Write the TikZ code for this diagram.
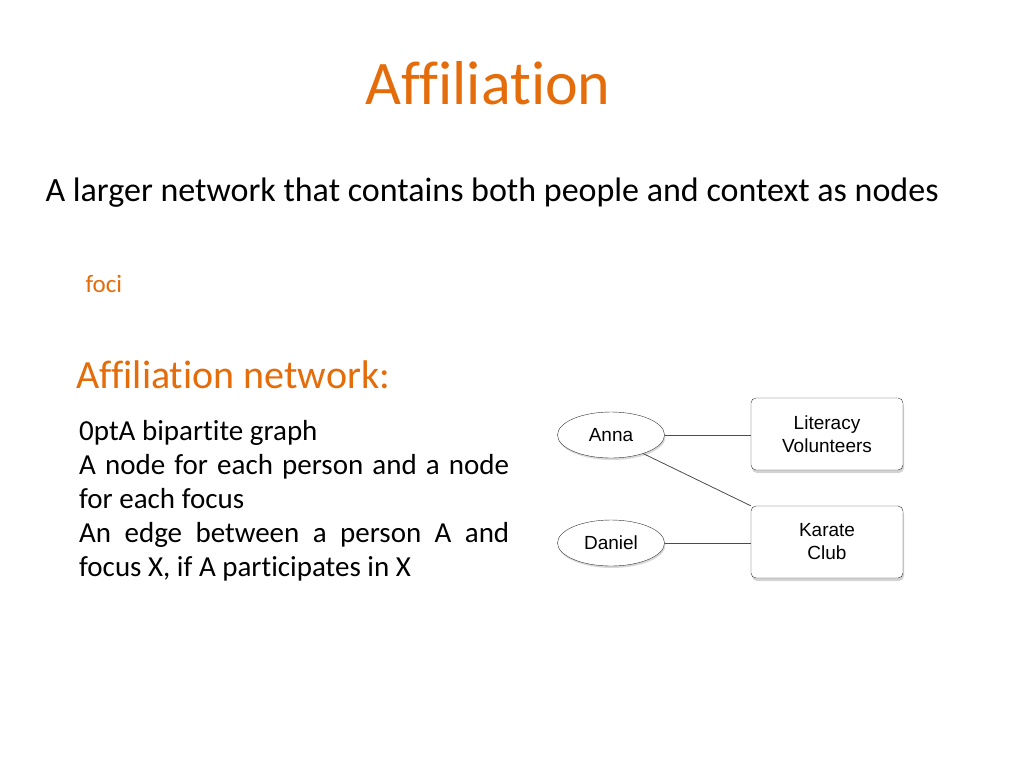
\documentclass[tikz,border=0pt]{standalone}
\usepackage{fontspec}
\setmainfont[Ligatures=NoCommon]{Carlito}
\newfontfamily\hv{Liberation Sans}
\usetikzlibrary{shapes.geometric,shadows}
\definecolor{org}{HTML}{E46C0A}
\begin{document}
\begin{tikzpicture}[x=1pt,y=-1pt,
  person/.style={ellipse,draw=black!80,fill=white,minimum width=107,minimum height=46,font=\hv\fontsize{19}{21}\selectfont,drop shadow={shadow xshift=1pt,shadow yshift=-2pt,opacity=0.3}},
  focus/.style={rectangle,rounded corners=5,draw=black!80,fill=white,minimum width=152,minimum height=72,align=center,font=\hv\fontsize{19}{23}\selectfont,drop shadow={shadow xshift=1pt,shadow yshift=-3pt,opacity=0.35}},
  edge/.style={draw=black!70,line width=0.8pt}]
\useasboundingbox (0,0) rectangle (1024,768);
\node[text=org,font=\fontsize{62}{70}\selectfont] (title) at (488,83) {Affiliation};
\node[font=\fontsize{34}{40}\selectfont,anchor=west] (sub) at (42,193) {A larger network that contains both people and context as nodes};
\node[text=org,font=\fontsize{25}{30}\selectfont,anchor=west] (foci) at (82,284) {foci};
\node[text=org,font=\fontsize{40}{48}\selectfont,anchor=west] (an) at (73,375) {Affiliation network:};
\node[anchor=north west,text width=430,align=justify,inner sep=0,font=\fontsize{29}{34}\selectfont\hyphenpenalty=10000] (body) at (79,420) {A bipartite graph\\
A node for each person and a node\linebreak for each focus\\
An edge between a person A and\linebreak focus X, if A participates in X};
\node[person] (anna) at (611,435) {Anna};
\node[person] (daniel) at (611,543) {Daniel};
\node[focus] (lit) at (827,434) {Literacy\\Volunteers};
\node[focus] (kar) at (827,542) {Karate\\Club};
\draw[edge] (anna.east) -- (lit.west|-anna.east);
\draw[edge] (anna.-30) -- (kar.north west);
\draw[edge] (daniel.east) -- (kar.west|-daniel.east);
\end{tikzpicture}
\end{document}
